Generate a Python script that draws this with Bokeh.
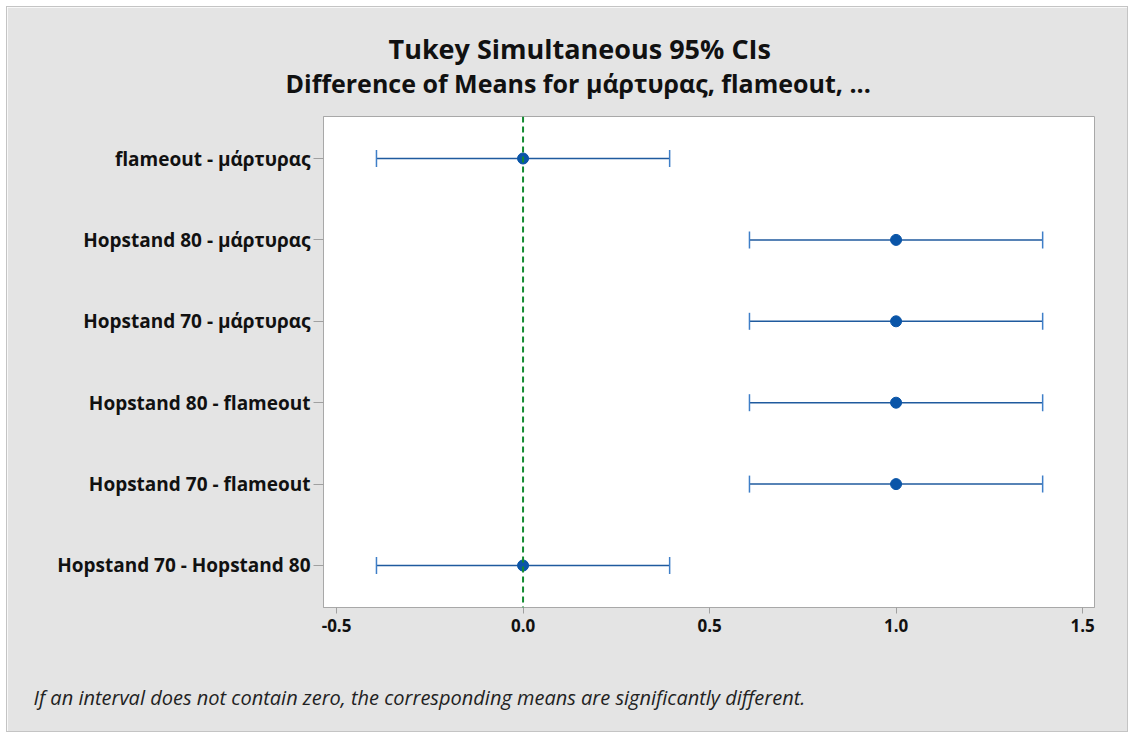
import numpy as np
from bokeh.plotting import figure
from bokeh.models import FixedTicker, Span, ColumnDataSource, Range1d, Title
from bokeh.embed import file_html
from bokeh.resources import INLINE

# ---- data ----
comparisons = ["flameout - μάρτυρας", "Hopstand 80 - μάρτυρας", "Hopstand 70 - μάρτυρας",
               "Hopstand 80 - flameout", "Hopstand 70 - flameout", "Hopstand 70 - Hopstand 80"]
diff_means = [0.0, 1.0, 1.0, 1.0, 1.0, 0.0]
lower_ci = [-0.393, 0.607, 0.607, 0.607, 0.607, -0.393]
upper_ci = [0.393, 1.393, 1.393, 1.393, 1.393, 0.393]
x_ticks = [-0.5, 0.0, 0.5, 1.0, 1.5]
x_tick_labels = ["-0.5", "0.0", "0.5", "1.0", "1.5"]

n = len(comparisons)
ypos = [n - i for i in range(n)]

FONT = "Open Sans"
BG = "#e4e4e4"

p = figure(width=1120, height=724, output_backend="svg", toolbar_location=None,
           x_range=Range1d(-0.535, 1.532), y_range=Range1d(0.484, n + 0.516),
           min_border_left=316, min_border_right=33, min_border_top=109, min_border_bottom=124)
p.margin = (7, 0, 0, 7)
p.styles = {"outline": "1px solid #c4c4c4"}
p.background_fill_color = "white"
p.border_fill_color = BG
p.outline_line_color = "#a8a8a8"
p.outline_line_width = 1
p.grid.visible = False

src = ColumnDataSource(dict(y=ypos, m=diff_means, lo=lower_ci, hi=upper_ci))

p.add_layout(Span(location=0, dimension="height", line_color="#138a30",
                  line_width=2, line_dash="6 4"))
p.segment(x0="lo", y0="y", x1="hi", y1="y", source=src, line_color="#1f5a9e", line_width=1.5)
p.dash(x="lo", y="y", source=src, size=17, angle=np.pi / 2, line_color="#3f7fc8", line_width=1.5)
p.dash(x="hi", y="y", source=src, size=17, angle=np.pi / 2, line_color="#3f7fc8", line_width=1.5)
p.scatter(x="m", y="y", source=src, size=11, fill_color="#0a55a8", line_color="#0a55a8")

# x axis (an empty axis label acts as spacer above the footnote)
xa = p.xaxis[0]
xa.ticker = FixedTicker(ticks=x_ticks)
xa.major_label_overrides = {t: l for t, l in zip(x_ticks, x_tick_labels)}
xa.major_tick_in = 0
xa.major_tick_out = 6
xa.minor_tick_line_color = None
xa.major_tick_line_color = "#a0a0a0"
xa.axis_line_color = "#a8a8a8"
xa.major_label_text_font = FONT
xa.major_label_text_font_size = "17px"
xa.major_label_text_font_style = "bold"
xa.major_label_text_color = "#111111"
xa.major_label_standoff = 5
xa.axis_label = " "
xa.axis_label_text_font_size = "12px"
xa.axis_label_standoff = 28

ya = p.yaxis[0]
ya.ticker = FixedTicker(ticks=ypos)
ya.major_label_overrides = {y: c for y, c in zip(ypos, comparisons)}
ya.major_tick_in = 0
ya.major_tick_out = 10
ya.minor_tick_line_color = None
ya.major_tick_line_color = "#a0a0a0"
ya.axis_line_color = "#a8a8a8"
ya.major_label_text_font = FONT
ya.major_label_text_font_size = "19px"
ya.major_label_text_font_style = "bold"
ya.major_label_text_color = "#111111"
ya.major_label_standoff = 3

# titles (first added = nearest the frame) and footnote
p.add_layout(Title(text="Difference of Means for μάρτυρας, flameout, ...", align="left", offset=-38,
                   text_font=FONT, text_font_size="25px", text_font_style="bold",
                   text_color="#111111", standoff=34), "above")
p.add_layout(Title(text="Tukey Simultaneous 95% CIs", align="left", offset=65,
                   text_font=FONT, text_font_size="27px", text_font_style="bold",
                   text_color="#111111", standoff=-40), "above")
p.add_layout(Title(text="If an interval does not contain zero, the corresponding means are significantly different.",
                   align="left", offset=-290, text_font=FONT, text_font_size="20px",
                   text_font_style="italic", text_color="#222222", standoff=4), "below")

open("out.html", "w").write(file_html(p, INLINE))
